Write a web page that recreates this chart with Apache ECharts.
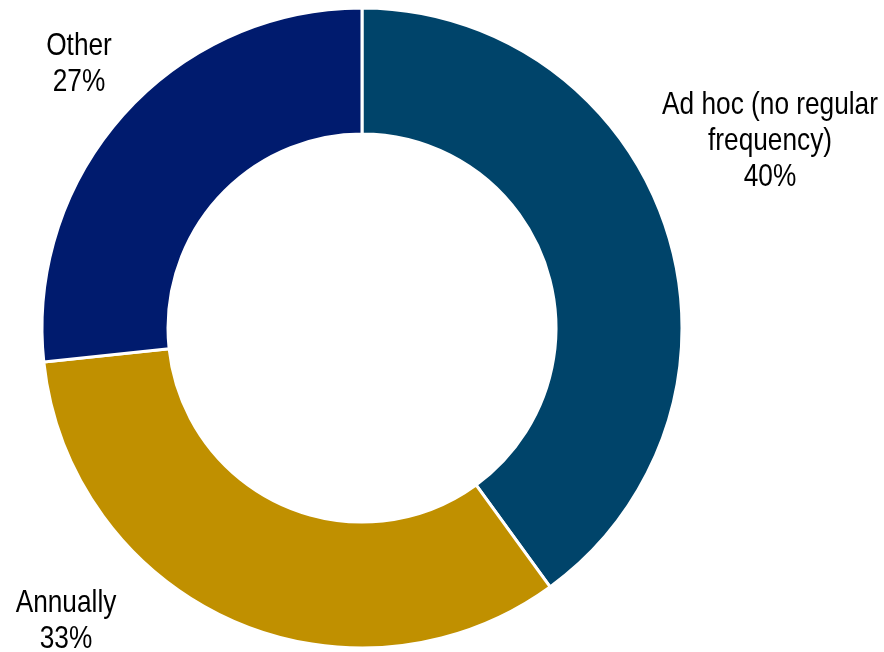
<!DOCTYPE html>
<html><head><meta charset="utf-8">
<script src="https://cdn.jsdelivr.net/npm/echarts@6/dist/echarts.min.js"></script>
<style>html,body{margin:0;padding:0;background:#fff}#c{width:884px;height:652px}</style>
</head><body><div id="c"></div>
<script>
var categories = ['Ad hoc (no regular\nfrequency)', 'Annually', 'Other'];
var values = [40, 33.3, 26.7];
var colors = ['#00446A', '#C09000', '#001B6E'];
var labelPos = [[770, 141], [66, 621], [79, 64]];

var chart = echarts.init(document.getElementById('c'));
chart.setOption({
  animation: false,
  graphic: categories.map(function (c, i) {
    return {
      type: 'text',
      x: labelPos[i][0],
      y: labelPos[i][1],
      scaleX: 0.82,
      style: {
        text: c + '\n' + Math.round(values[i]) + '%',
        fontFamily: '"Liberation Sans", Arial, sans-serif',
        fontSize: 32,
        lineHeight: 36,
        fill: '#000',
        textAlign: 'center',
        textVerticalAlign: 'middle',
        verticalAlign: 'middle',
        align: 'center'
      }
    };
  }),
  series: [{
    type: 'pie',
    center: [362, 328],
    radius: [194, 320],
    startAngle: 90,
    clockwise: true,
    itemStyle: { borderColor: '#ffffff', borderWidth: 3 },
    label: { show: false },
    labelLine: { show: false },
    emphasis: { disabled: true },
    data: categories.map(function (c, i) {
      return { name: c, value: values[i], itemStyle: { color: colors[i] } };
    })
  }]
});
</script></body></html>
